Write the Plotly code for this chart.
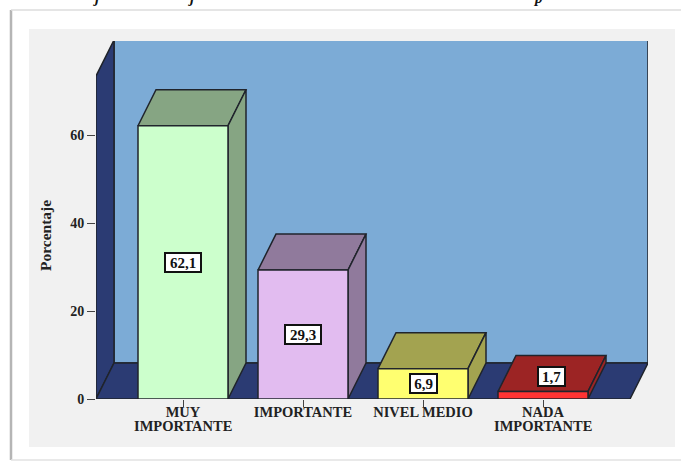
import plotly.graph_objects as go

categories = ["MUY", "IMPORTANTE", "NIVEL MEDIO", "NADA"]
second_lines = ["IMPORTANTE", "", "", "IMPORTANTE"]
values = [62.1, 29.3, 6.9, 1.7]
y_ticks = [0, 20, 40, 60]
front_colors = ["#ccffcc", "#e2bcf0", "#ffff70", "#ff3333"]
shade_colors = ["#86a583", "#907a9c", "#a3a350", "#9c2424"]
title_fragments = ["j", "j", "p"]

W, H = 681, 462
L, R, T, B = 96, 648, 41, 399
X0, XPX = 183, 120   # pixel of category 0, px per category
YPX = 4.4            # px per percent
DX, DY = 18 / XPX, 36 / YPX
BAR = 0.375
FL, FR, WALL = -0.725, 3.725, 73.4
FONT = "Liberation Serif"
EDGE = "#20242c"


def px(x):
    return (x - L) / (R - L)


def py(y):
    return (B - y) / (B - T)


fig = go.Figure()


def poly(xs, ys, color, width=1.5):
    fig.add_trace(go.Scatter(
        x=xs + xs[:1], y=ys + ys[:1], mode="lines", fill="toself", fillcolor=color,
        line=dict(color=EDGE, width=width), hoverinfo="skip", showlegend=False,
        cliponaxis=False))


# Walls and floor
poly([FL + DX, FR + DX, FR + DX, FL + DX], [DY, DY, WALL + DY, WALL + DY], "#7cabd6")
poly([FL, FL + DX, FL + DX, FL], [0, DY, WALL + DY, WALL], "#2b3b73")
poly([FL, FR, FR + DX, FL + DX], [0, 0, DY, DY], "#2b3b73")

# Bars
for i, v in enumerate(values):
    a, b = i - BAR, i + BAR
    poly([a, b, b + DX, a + DX], [v, v, v + DY, v + DY], shade_colors[i])
    poly([b, b + DX, b + DX, b], [0, DY, v + DY, v], shade_colors[i])
    poly([a, b, b, a], [0, 0, v, v], front_colors[i])

annotations = []
for i, v in enumerate(values):
    small = v < 3
    text = f"{v:.1f}".replace(".", ",")
    annotations.append(dict(
        x=i + (0.07 if small else 0), y=(v / 2 if not small else 5.2), text=text,
        showarrow=False, font=dict(family=FONT, size=15, color="#111", weight=700),
        bgcolor="white", bordercolor="#111", borderwidth=2, borderpad=1,
        width=32 if len(text) > 3 else 23, height=15, align="center", valign="middle"))
    if second_lines[i]:
        annotations.append(dict(
            x=i, y=0, yshift=-27, yanchor="middle", text=second_lines[i], showarrow=False,
            font=dict(family=FONT, size=14.5, color="#222", weight=700)))

annotations.append(dict(
    xref="paper", yref="paper", x=px(46), y=py(236), xanchor="center", yanchor="middle",
    text="Porcentaje", textangle=-90,
    showarrow=False, font=dict(family=FONT, size=15.5, color="#222", weight=700)))

for text, x in zip(title_fragments, [96, 191, 538]):
    annotations.append(dict(
        xref="paper", yref="paper", x=px(x), y=py(7), xanchor="center", yanchor="bottom",
        text=text, showarrow=False,
        borderpad=0, font=dict(family=FONT, size=15, color="#111", weight=700, style="italic")))

shapes = [
    dict(type="rect", xref="paper", yref="paper", x0=px(29), x1=px(675), y0=py(447), y1=py(29),
         fillcolor="#f1f1f1", line_width=0, layer="below"),
    dict(type="line", xref="paper", yref="paper", x0=px(11), x1=px(11), y0=py(460), y1=py(10),
         line=dict(color="#b5b5b5", width=2.5), layer="below"),
    dict(type="line", xref="paper", yref="paper", x0=px(11), x1=px(681), y0=py(10), y1=py(10),
         line=dict(color="#dddddd", width=1.5), layer="below"),
    dict(type="line", xref="paper", yref="paper", x0=px(11), x1=px(681), y0=py(460), y1=py(460),
         line=dict(color="#e2e2e2", width=1.5), layer="below"),
]

fig.update_layout(
    width=W, height=H, autosize=False,
    margin=dict(l=L, r=W - R, t=T, b=H - B),
    paper_bgcolor="white", plot_bgcolor="rgba(0,0,0,0)",
    annotations=annotations, shapes=shapes, showlegend=False,
    font=dict(family=FONT),
    xaxis=dict(range=[(L - X0) / XPX, (R - X0) / XPX], tickvals=list(range(len(categories))),
               ticktext=categories, ticks="outside", ticklen=7, tickcolor="#444", tickwidth=1.2,
               ticklabelstandoff=-7,
               showgrid=False, zeroline=False, showline=False,
               tickfont=dict(family=FONT, size=14.5, color="#222", weight=700)),
    yaxis=dict(range=[0, (B - T) / YPX], tickvals=y_ticks, ticks="outside", ticklen=8,
               tickcolor="#444", tickwidth=1.2, showgrid=False, zeroline=False, showline=False,
               tickfont=dict(family=FONT, size=14, color="#222", weight=700)),
)

fig.write_html("out.html", config={"displayModeBar": False},
               post_script="document.body.style.margin='0';document.body.style.overflow='hidden';")
